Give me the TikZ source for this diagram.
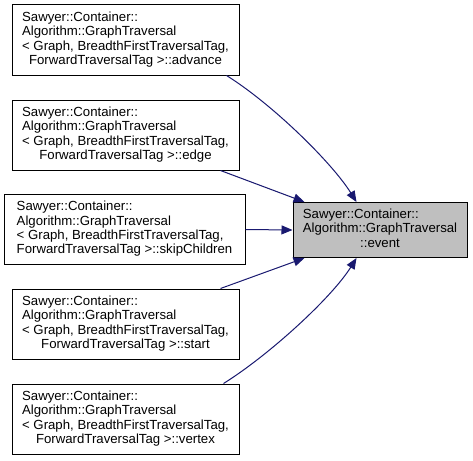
\documentclass[tikz,border=0pt]{standalone}
\usepackage{fontspec}
\setmainfont{Liberation Sans}
\usetikzlibrary{arrows.meta}
\definecolor{edgecol}{HTML}{191970}
\definecolor{hilite}{HTML}{BFBFBF}
\newcommand{\lbl}[1]{{\fontsize{13.2pt}{14.3pt}\selectfont\setlength{\tabcolsep}{0pt}\renewcommand{\arraystretch}{1}\begin{tabular}{l}#1\end{tabular}}}
\newcommand{\cl}[1]{\multicolumn{1}{c}{#1}}
\begin{document}
\begin{tikzpicture}[x=1pt,y=-1pt,
  box/.style={draw=black, line width=1pt, fill=white, inner sep=0pt, minimum width=227pt, minimum height=70pt},
  focus/.style={draw=black, line width=1pt, fill=hilite, inner sep=0pt, minimum width=174pt, minimum height=55pt},
  conn/.style={draw=edgecol, line width=1pt, -{Triangle[length=11pt,width=9pt]}}]
\useasboundingbox (0,0) rectangle (473,460);
\node[box] (adv) at (125.5,40) {\lbl{Sawyer::Container::\\Algorithm::GraphTraversal\\\textless{} Graph, BreadthFirstTraversalTag,\\\cl{ForwardTraversalTag \textgreater::advance}}};
\node[box] (edg) at (125.5,135) {\lbl{Sawyer::Container::\\Algorithm::GraphTraversal\\\textless{} Graph, BreadthFirstTraversalTag,\\\cl{ForwardTraversalTag \textgreater::edge}}};
\node[box, minimum width=241pt] (skp) at (124.5,229.5) {\lbl{Sawyer::Container::\\Algorithm::GraphTraversal\\\textless{} Graph, BreadthFirstTraversalTag,\\\cl{ForwardTraversalTag \textgreater::skipChildren}}};
\node[box] (sta) at (125.5,324) {\lbl{Sawyer::Container::\\Algorithm::GraphTraversal\\\textless{} Graph, BreadthFirstTraversalTag,\\\cl{ForwardTraversalTag \textgreater::start}}};
\node[box] (vtx) at (125.5,419) {\lbl{Sawyer::Container::\\Algorithm::GraphTraversal\\\textless{} Graph, BreadthFirstTraversalTag,\\\cl{ForwardTraversalTag \textgreater::vertex}}};
\node[focus] (evt) at (380,230) {\lbl{Sawyer::Container::\\Algorithm::GraphTraversal\\\cl{::event}}};
\draw[conn] (adv.south east) ++(-13,0) .. controls +(45,28) and +(-25,-40) .. ([xshift=64pt]evt.north west);
\draw[conn] (edg.south east) ++(-19,0) -- ([xshift=12pt]evt.north west);
\draw[conn] (skp.east) -- (evt.west);
\draw[conn] (sta.north east) ++(-19,0) -- ([xshift=12pt]evt.south west);
\draw[conn] (vtx.north east) ++(-16,0) .. controls +(45,-28) and +(-25,40) .. ([xshift=64pt]evt.south west);
\end{tikzpicture}
\end{document}
